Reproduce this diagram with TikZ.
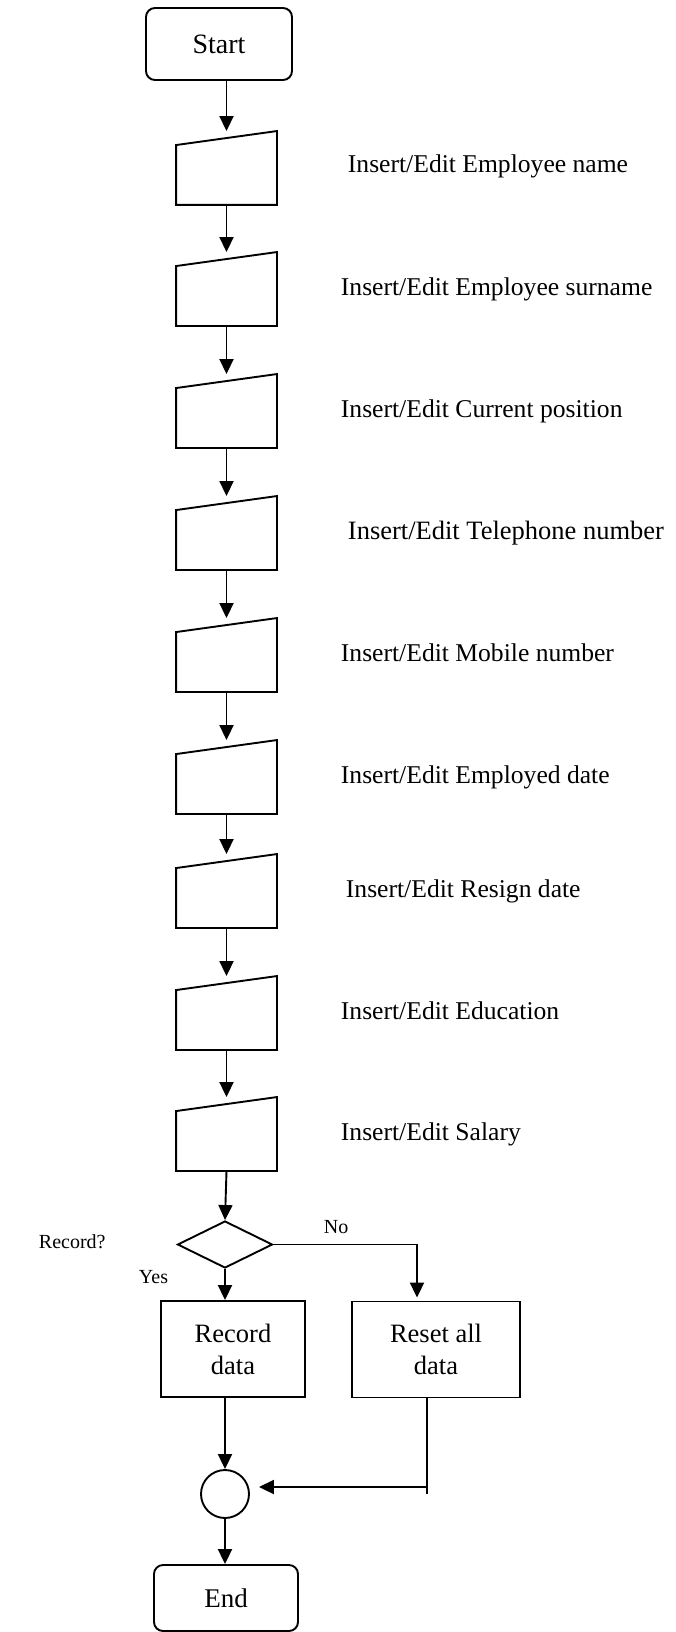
\documentclass[tikz,border=0pt]{standalone}
\usepackage{fontspec}
\setmainfont{Liberation Serif}
\usetikzlibrary{arrows.meta,shapes.geometric,calc}
\begin{document}
\begin{tikzpicture}[x=1pt,y=-1pt,line width=1.9pt,
  arr/.style={-{Triangle[width=14pt,length=15pt]}},
  term/.style={draw,rounded corners=9pt,minimum width=146pt,minimum height=72pt,inner sep=0pt},
  manin/.style={draw=none,minimum width=99pt,minimum height=72pt,inner sep=0pt},
  procbox/.style={draw,minimum height=96pt,inner sep=0pt,align=center,font=\fontsize{26.5}{32}\selectfont},
  lbl/.style={anchor=base west,inner sep=0pt,font=\fontsize{25.6}{30}\selectfont},
  small/.style={anchor=base west,inner sep=0pt,font=\fontsize{20}{24}\selectfont}]
\fill[white] (0,0) rectangle (675,1632);
\useasboundingbox (0,0) rectangle (675,1632);

\node[term,font=\fontsize{28}{32}\selectfont] (start) at (219,44) {Start};

\foreach \i/\t in {1/132,2/253,3/375,4/497,5/619,6/741,7/855,8/977,9/1098}{
  \node[manin] (m\i) at (226.5,\t+36) {};
  \draw (m\i.south west) -- ([yshift=-14pt]m\i.north west) -- (m\i.north east) -- (m\i.south east) -- cycle;
}

\node[lbl] (t1) at (347,173) {Insert/Edit Employee name};
\node[lbl] (t2) at (340,295) {Insert/Edit Employee surname};
\node[lbl] (t3) at (340,417) {Insert/Edit Current position};
\node[lbl,font=\fontsize{26.5}{30}\selectfont] (t4) at (347,539) {Insert/Edit Telephone number};
\node[lbl] (t5) at (340,661) {Insert/Edit Mobile number};
\node[lbl] (t6) at (340,783) {Insert/Edit Employed date};
\node[lbl] (t7) at (345,897) {Insert/Edit Resign date};
\node[lbl] (t8) at (340,1019) {Insert/Edit Education};
\node[lbl] (t9) at (340,1140) {Insert/Edit Salary};

\draw[arr] (start.south -| m1.north) -- (m1.north);
\foreach \a/\b in {1/2,2/3,3/4,4/5,5/6,6/7,7/8,8/9}{
  \draw[arr] (m\a.south) -- (m\b.north);
}

\node[draw,diamond,minimum width=95pt,minimum height=47pt,inner sep=0pt] (dia) at (225,1244.5) {};
\draw[arr] (m9.south) -- (dia.north);

\node[small] (rq) at (38,1248) {Record?};
\node[small] (no) at (323,1233) {No};
\node[small] (yes) at (138,1283) {Yes};

\node[procbox,minimum width=144pt] (rec) at (233,1349) {Record\\data};
\node[procbox,minimum width=168pt] (rst) at (436,1349.5) {Reset all\\data};

\draw[arr] (dia.south) -- (dia.south |- rec.north);
\draw[arr] (dia.east) -| ([xshift=-19pt,yshift=3pt]rst.north);

\node[draw,circle,minimum size=48pt,inner sep=0pt] (circ) at (225,1494) {};
\draw[arr] (rec.south -| circ.north) -- (circ.north);
\draw ([xshift=-9pt]rst.south) -- ([xshift=-9pt]rst.south |- circ.east);
\draw[arr,shorten >=9pt] ([xshift=-9pt]rst.south) |- ([yshift=7pt]circ.east);

\node[term,minimum width=144pt,minimum height=66pt,font=\fontsize{27}{32}\selectfont] (end) at (226,1598) {End};
\draw[arr] (circ.south) -- (circ.south |- end.north);
\end{tikzpicture}
\end{document}
